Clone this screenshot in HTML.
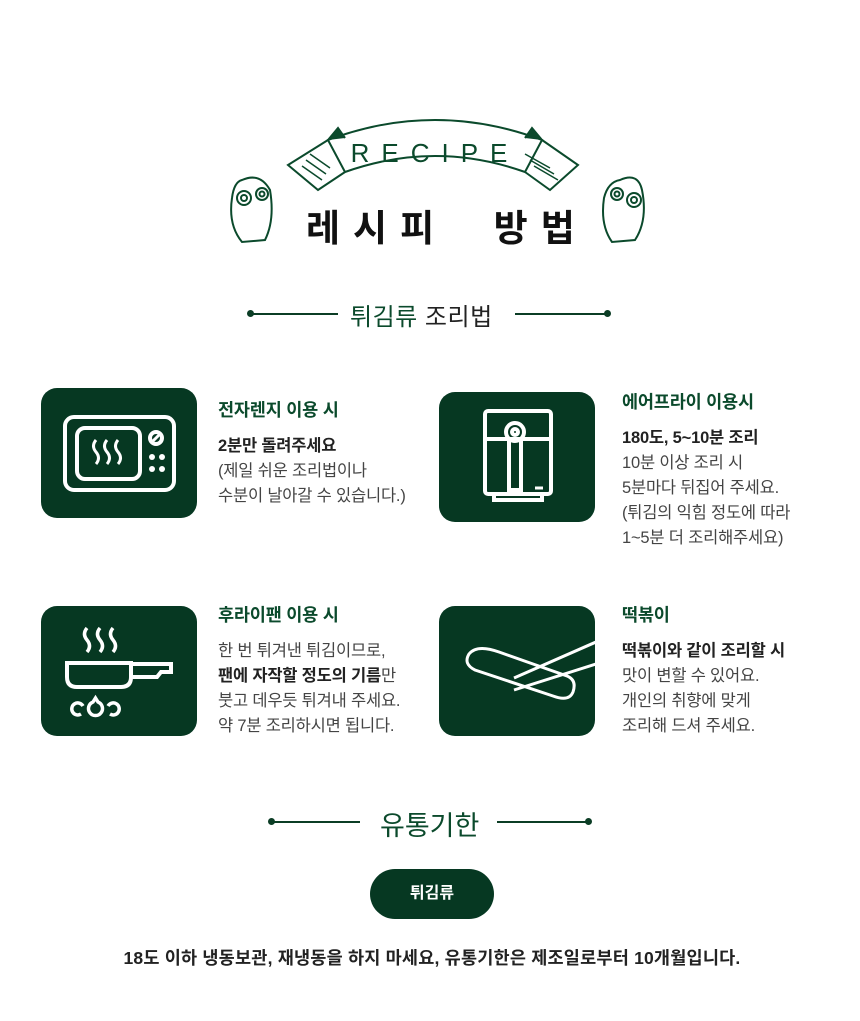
<!DOCTYPE html>
<html><head><meta charset="utf-8"><style>
*{margin:0;padding:0;box-sizing:border-box}
body{width:860px;height:1021px;background:#fff;position:relative;font-family:"Liberation Sans","Noto Sans CJK KR",sans-serif;color:#333;overflow:hidden}
.abs{position:absolute}
.box{position:absolute;width:156px;height:130px;background:#063822;border-radius:16px;overflow:hidden}
.t{position:absolute;font-size:16.5px;line-height:25px;color:#444;white-space:nowrap;letter-spacing:-0.2px}
.t h3{font-size:17.5px;color:#0b4a2c;font-weight:bold;margin-bottom:11px}
.t b{color:#222}
.line{position:absolute;height:1.5px;background:#0b3d25}
.dot{position:absolute;width:7px;height:7px;border-radius:50%;background:#0b3d25}
</style></head><body>

<svg class="abs" style="left:220px;top:110px" width="430" height="140" viewBox="0 0 430 140">
 <g fill="none" stroke="#0b4a2c" stroke-width="2">
  <path d="M108 30 Q215 -10 322 30 L305 62 Q215 30 125 62 Z" fill="#fff"/>
  <path d="M108 30 L68 55 L98 80 L125 62"/>
  <path d="M322 30 L358 55 L330 80 L305 62"/>
  <path d="M108 30 L118 18 L125 28" fill="#0b4a2c"/>
  <path d="M322 30 L312 18 L305 28" fill="#0b4a2c"/>
  <path d="M90 44 L110 58 M86 50 L106 64 M82 56 L102 70 M305 44 L330 58 M310 50 L334 64 M314 56 L338 70" stroke-width="1.5"/>
  <path d="M22 70 Q40 62 50 80 Q55 110 45 130 L22 132 Q8 115 12 88 Q14 72 22 70Z"/>
  <circle cx="24" cy="88" r="7"/><circle cx="24" cy="88" r="3"/>
  <circle cx="42" cy="84" r="6"/><circle cx="42" cy="84" r="2.5"/>
  <path d="M400 70 Q418 62 422 80 Q428 110 415 130 L392 132 Q380 115 384 88 Q388 72 400 70Z"/>
  <circle cx="397" cy="84" r="6"/><circle cx="397" cy="84" r="2.5"/>
  <circle cx="414" cy="90" r="7"/><circle cx="414" cy="90" r="3"/>
 </g>
 <text x="215" y="52" text-anchor="middle" font-family="Liberation Sans" font-size="26" fill="#0b4a2c" letter-spacing="12">RECIPE</text>
</svg>
<div class="abs" style="left:306px;top:198px;font-size:37px;font-weight:bold;color:#111;letter-spacing:13px;white-space:nowrap">레시피&nbsp;&nbsp;방법</div>

<div class="dot" style="left:247px;top:310px"></div><div class="line" style="left:250px;top:313px;width:88px"></div>
<div class="dot" style="left:604px;top:310px"></div><div class="line" style="left:515px;top:313px;width:90px"></div>
<div class="abs" style="left:350px;top:297px;font-size:24px;letter-spacing:0.5px;color:#222;white-space:nowrap"><span style="color:#0b4a2c">튀김류</span> 조리법</div>

<div class="box" style="left:41px;top:388px">
 <svg width="156" height="130" fill="none" stroke="#fff" stroke-width="4"><rect x="24" y="29" width="109" height="73" rx="9"/><rect x="36" y="40" width="63" height="51" rx="8"/><path d="M55 52q-5 6 0 12t0 12M66 52q-5 6 0 12t0 12M77 52q-5 6 0 12t0 12" stroke-width="3"/><circle cx="115" cy="50" r="6"/><path d="M111 54l8-8" stroke-width="3"/><g fill="#fff" stroke="none"><circle cx="111" cy="69" r="3"/><circle cx="121" cy="69" r="3"/><circle cx="111" cy="81" r="3"/><circle cx="121" cy="81" r="3"/></g></svg>
</div>
<div class="t" style="left:218px;top:398px"><h3>전자렌지 이용 시</h3><b>2분만 돌려주세요</b><br>(제일 쉬운 조리법이나<br>수분이 날아갈 수 있습니다.)</div>

<div class="box" style="left:439px;top:392px">
 <svg width="156" height="130" fill="none" stroke="#fff" stroke-width="4"><rect x="46" y="19" width="66" height="83" rx="3"/><path d="M46 47h66M55 102v6h48v-6"/><circle cx="76" cy="40" r="9"/><circle cx="76" cy="40" r="3"/><path d="M70 49v49h12V49"/><path d="M96 96h8" stroke-width="3"/></svg>
</div>
<div class="t" style="left:622px;top:390px"><h3>에어프라이 이용시</h3><b>180도, 5~10분 조리</b><br>10분 이상 조리 시<br>5분마다 뒤집어 주세요.<br>(튀김의 익힘 정도에 따라<br>1~5분 더 조리해주세요)</div>

<div class="box" style="left:41px;top:606px">
 <svg width="156" height="130" fill="none" stroke="#fff" stroke-width="4"><path d="M46 22q-5 6 0 12t0 12M59 22q-5 6 0 12t0 12M72 22q-5 6 0 12t0 12" stroke-width="3.5"/><path d="M26 57h64v14q0 10-10 10H36q-10 0-10-10z"/><path d="M90 58h40v8h-10l-4 5H90"/><path d="M40 108a6 6 0 1 1 2-8M52 96a7 7 0 1 0 5 0l-2.5-4zM67 100a6 6 0 1 1 2 8" stroke-width="3.5"/></svg>
</div>
<div class="t" style="left:218px;top:603px"><h3>후라이팬 이용 시</h3>한 번 튀겨낸 튀김이므로,<br><b>팬에 자작할 정도의 기름</b>만<br>붓고 데우듯 튀겨내 주세요.<br>약 7분 조리하시면 됩니다.</div>

<div class="box" style="left:439px;top:606px">
 <svg width="156" height="130" fill="none" stroke="#fff" stroke-width="3"><path d="M30 48q8-10 30-2l68 24q10 4 6 16q-4 10-20 4L36 64q-12-6-6-16z"/><path d="M75 72l82-36M75 84l82-26"/></svg>
</div>
<div class="t" style="left:622px;top:603px"><h3>떡볶이</h3><b>떡볶이와 같이 조리할 시</b><br>맛이 변할 수 있어요.<br>개인의 취향에 맞게<br>조리해 드셔 주세요.</div>

<div class="dot" style="left:268px;top:818px"></div><div class="line" style="left:271px;top:821px;width:89px"></div>
<div class="dot" style="left:585px;top:818px"></div><div class="line" style="left:497px;top:821px;width:90px"></div>
<div class="abs" style="left:380px;top:804px;font-size:27px;color:#0b4a2c;white-space:nowrap">유통기한</div>

<div class="abs" style="left:370px;top:869px;width:124px;height:50px;background:#063822;border-radius:25px;color:#fff;font-weight:bold;font-size:16px;line-height:50px;text-align:center">튀김류</div>
<div class="abs" style="left:0;top:945px;width:864px;text-align:center;font-size:17.5px;letter-spacing:0.2px;font-weight:bold;color:#222;white-space:nowrap">18도 이하 냉동보관, 재냉동을 하지 마세요, 유통기한은 제조일로부터 10개월입니다.</div>
</body></html>
